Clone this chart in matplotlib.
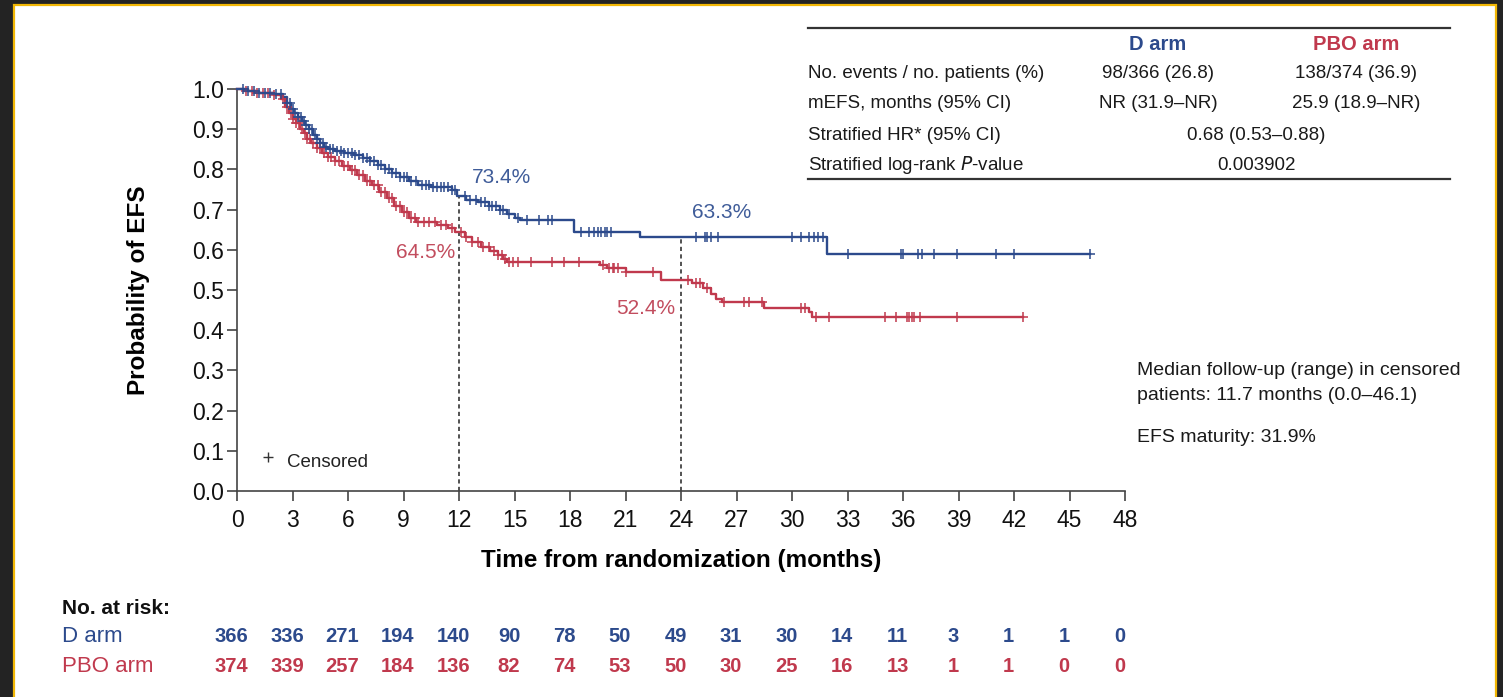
import numpy as np
import matplotlib.pyplot as plt
from matplotlib.patches import Rectangle
import matplotlib.transforms as mtransforms

plt.rcParams['font.family'] = ['Liberation Sans', 'DejaVu Sans']

BLUE = '#2c4a8c'
RED = '#c0394d'
BLUE_TXT = '#3f5c99'
RED_TXT = '#c24d5e'

# Kaplan-Meier step points (time in months, survival after the step)
d_times = [0, 0.6, 1.2, 2.0, 2.5, 2.7, 2.9, 3.1, 3.3, 3.5, 3.7, 3.9, 4.1, 4.3, 4.5, 4.7,
           4.9, 5.3, 5.8, 6.3, 6.8, 7.2, 7.6, 8.0, 8.4, 8.8, 9.3, 9.8, 10.5, 11.6, 11.9,
           12.4, 13.0, 13.6, 14.2, 14.6, 15.0, 15.3, 18.2, 21.8, 31.9]
d_surv = [1.0, 0.995, 0.99, 0.987, 0.98, 0.965, 0.95, 0.94, 0.93, 0.92, 0.91, 0.90, 0.885,
          0.875, 0.865, 0.855, 0.85, 0.845, 0.84, 0.835, 0.828, 0.82, 0.81, 0.80, 0.79, 0.782,
          0.772, 0.762, 0.757, 0.75, 0.734, 0.725, 0.718, 0.71, 0.70, 0.69, 0.68, 0.674,
          0.645, 0.633, 0.59]
d_end = 46.1
d_cens = [0.3, 0.6, 0.9, 1.2, 1.5, 1.8, 2.1, 2.4, 2.7, 2.85, 3.0, 3.15, 3.3, 3.45, 3.6,
          3.75, 3.9, 4.05, 4.2, 4.35, 4.5, 4.65, 4.8, 5.0, 5.2, 5.4, 5.6, 5.8, 6.0, 6.2,
          6.4, 6.6, 6.8, 7.0, 7.2, 7.4, 7.6, 7.8, 8.0, 8.2, 8.4, 8.6, 8.8, 9.0, 9.2, 9.4,
          9.7, 10.0, 10.2, 10.4, 10.6, 10.8, 11.0, 11.2, 11.4, 11.6, 11.8, 12.3, 12.6,
          12.9, 13.2, 13.4, 13.6, 13.8, 14.0, 14.2, 14.4, 14.7, 15.2, 15.7, 16.3, 16.8,
          17.0, 18.6, 19.0, 19.3, 19.5, 19.7, 19.9, 20.0, 20.2, 24.8, 25.3, 25.4, 25.6,
          26.0, 30.0, 30.5, 30.9, 31.2, 31.4, 31.7, 33.0, 35.9, 36.0, 36.8, 37.0, 37.7,
          38.9, 41.0, 42.0, 46.1]

p_times = [0, 0.4, 1.0, 2.0, 2.4, 2.6, 2.8, 3.0, 3.2, 3.4, 3.6, 3.8, 4.0, 4.3, 4.6, 4.9,
           5.3, 5.7, 6.1, 6.5, 6.9, 7.3, 7.7, 8.1, 8.5, 8.9, 9.3, 9.7, 10.8, 11.4, 11.8,
           12.3, 12.7, 13.2, 13.7, 14.1, 14.4, 14.6, 19.6, 20.0, 21.0, 22.9, 24.6, 25.2,
           25.6, 25.9, 26.2, 28.5, 30.9, 31.1]
p_surv = [1.0, 0.995, 0.99, 0.985, 0.975, 0.955, 0.94, 0.925, 0.915, 0.90, 0.89, 0.875,
          0.865, 0.852, 0.84, 0.83, 0.82, 0.808, 0.798, 0.785, 0.772, 0.76, 0.745, 0.728,
          0.71, 0.695, 0.678, 0.668, 0.662, 0.655, 0.645, 0.632, 0.62, 0.608, 0.598, 0.588,
          0.576, 0.570, 0.562, 0.554, 0.546, 0.524, 0.517, 0.504, 0.49, 0.478, 0.471,
          0.454, 0.446, 0.432]
p_end = 42.5
p_cens = [0.5, 0.8, 1.1, 1.4, 1.7, 2.0, 2.5, 2.7, 2.9, 3.05, 3.2, 3.35, 3.5, 3.65, 3.8,
          3.95, 4.1, 4.3, 4.5, 4.7, 4.9, 5.1, 5.3, 5.5, 5.8, 6.0, 6.2, 6.4, 6.6, 6.8, 7.0,
          7.2, 7.4, 7.6, 7.8, 8.0, 8.2, 8.4, 8.6, 8.8, 9.0, 9.2, 9.4, 9.6, 9.8, 10.1,
          10.4, 10.7, 11.0, 11.3, 11.6, 12.1, 12.4, 12.7, 13.0, 13.3, 13.6, 13.9, 14.1,
          14.3, 14.5, 14.7, 14.9, 15.2, 15.9, 17.0, 17.7, 18.5, 19.8, 20.1, 20.3, 20.4,
          20.6, 21.0, 22.5, 24.4, 24.8, 25.0, 25.4, 26.3, 27.4, 27.7, 28.4, 30.5, 30.7,
          31.3, 32.0, 35.0, 35.6, 36.2, 36.3, 36.5, 36.6, 36.9, 38.9, 42.5]

landmarks = [12, 24]
d_landmark = [0.734, 0.633]
p_landmark = [0.645, 0.524]

risk_times = list(range(0, 49, 3))
d_risk = [366, 336, 271, 194, 140, 90, 78, 50, 49, 31, 30, 14, 11, 3, 1, 1, 0]
p_risk = [374, 339, 257, 184, 136, 82, 74, 53, 50, 30, 25, 16, 13, 1, 1, 0, 0]

table_rows = ['No. events / no. patients (%)', 'mEFS, months (95% CI)',
              'Stratified HR* (95% CI)', 'Stratified log-rank $\\it{P}$-value']
d_col = ['98/366 (26.8)', 'NR (31.9\u2013NR)']
p_col = ['138/374 (36.9)', '25.9 (18.9\u2013NR)']
shared_col = ['0.68 (0.53\u20130.88)', '0.003902']

W, H = 1503, 697
fig = plt.figure(figsize=(W / 100, H / 100), dpi=100)
fig.patch.set_facecolor('#232323')

# white slide panel with a thin gold border
fig.patches.append(Rectangle((14 / W, -0.05), (1496 - 14) / W, 1.05 - 5 / H,
                             transform=fig.transFigure, facecolor='white',
                             edgecolor='#f2b705', linewidth=1.6, zorder=-10))

ax = fig.add_axes([237 / W, (H - 491) / H, 888 / W, 402 / H])
ax.set_facecolor('none')
ax.set_zorder(2)


def km_step(times, surv, end, color):
    t = np.array(times + [end])
    s = np.array(surv + [surv[-1]])
    ax.step(t, s, where='post', color=color, lw=1.7, clip_on=False, zorder=3)


def censor_marks(times, surv, cens, color):
    idx = np.searchsorted(np.array(times), np.array(cens), side='right') - 1
    ys = np.array(surv)[idx]
    ax.plot(cens, ys, linestyle='none', marker='+', ms=6.5, mew=1.1, color=color,
            clip_on=False, zorder=4)


km_step(p_times, p_surv, p_end, RED)
censor_marks(p_times, p_surv, p_cens, RED)
km_step(d_times, d_surv, d_end, BLUE)
censor_marks(d_times, d_surv, d_cens, BLUE)

# landmark guide lines
for t, top in zip(landmarks, d_landmark):
    ax.plot([t, t], [0, top], color='#333333', lw=1.2, ls=(0, (2.5, 2)), zorder=2)

ax.text(12.0 + 2.3, d_landmark[0] + 0.045, f'{d_landmark[0] * 100:.1f}%', color=BLUE_TXT,
        fontsize=15, ha='center', va='center')
ax.text(24.0 + 2.2, d_landmark[1] + 0.061, f'{d_landmark[1] * 100:.1f}%', color=BLUE_TXT,
        fontsize=15, ha='center', va='center')
ax.text(12.0 - 0.2, p_landmark[0] - 0.052, f'{p_landmark[0] * 100:.1f}%', color=RED_TXT,
        fontsize=15, ha='right', va='center')
ax.text(24.0 - 0.3, p_landmark[1] - 0.07, f'{p_landmark[1] * 100:.1f}%', color=RED_TXT,
        fontsize=15, ha='right', va='center')

ax.set_xlim(0, 48)
ax.set_ylim(0, 1.0)
ax.set_xticks(risk_times)
ax.set_yticks(np.arange(0, 1.01, 0.1))
ax.set_yticklabels([f'{v:.1f}' for v in np.arange(0, 1.01, 0.1)])
for side in ['top', 'right']:
    ax.spines[side].set_visible(False)
for side in ['left', 'bottom']:
    ax.spines[side].set_color('#444444')
    ax.spines[side].set_linewidth(1.2)
ax.tick_params(direction='out', length=7, width=1.2, color='#444444', labelsize=16.5,
               labelcolor='#111111', pad=6)
ax.tick_params(axis='y', pad=2.5)
ax.set_xlabel('Time from randomization (months)', fontsize=17.5, fontweight='bold',
              labelpad=12)
ax.set_ylabel('Probability of EFS', fontsize=17.5, fontweight='bold', labelpad=30)

# censored legend
ax.plot([1.7], [0.085], marker='+', ms=7, mew=1.0, color='#333333', linestyle='none')
ax.text(2.7, 0.072, 'Censored', fontsize=13.5, color='#222222', va='center', ha='left')

# summary table at top right
tx0, tx1 = 808, 1450
fig.add_artist(plt.Line2D([tx0 / W, tx1 / W], [1 - 28 / H] * 2, color='#333333', lw=1.6))
fig.add_artist(plt.Line2D([tx0 / W, tx1 / W], [1 - 179 / H] * 2, color='#333333', lw=1.6))
fig.text(1158 / W, 1 - 45 / H, 'D arm', color=BLUE, fontsize=14.5, fontweight='bold',
         ha='center', va='center')
fig.text(1356 / W, 1 - 45 / H, 'PBO arm', color=RED, fontsize=14.5, fontweight='bold',
         ha='center', va='center')
row_y = [74, 103, 136, 165]
for i, (label, y) in enumerate(zip(table_rows, row_y)):
    fig.text(tx0 / W, 1 - y / H, label, fontsize=13.5, color='#1a1a1a', va='center')
    if i < 2:
        fig.text(1158 / W, 1 - y / H, d_col[i], fontsize=13.5, color='#1a1a1a',
                 ha='center', va='center')
        fig.text(1356 / W, 1 - y / H, p_col[i], fontsize=13.5, color='#1a1a1a',
                 ha='center', va='center')
    else:
        fig.text(1256 / W, 1 - y / H, shared_col[i - 2], fontsize=13.5, color='#1a1a1a',
                 ha='center', va='center')

# follow-up notes
fig.text(1137 / W, 1 - 371 / H, 'Median follow-up (range) in censored', fontsize=14,
         color='#1a1a1a', va='center')
fig.text(1137 / W, 1 - 396 / H, 'patients: 11.7 months (0.0\u201346.1)', fontsize=14,
         color='#1a1a1a', va='center')
fig.text(1137 / W, 1 - 437 / H, 'EFS maturity: 31.9%', fontsize=14, color='#1a1a1a',
         va='center')

# number at risk rows
trans = mtransforms.blended_transform_factory(ax.transData, fig.transFigure)
fig.text(62 / W, 1 - 608 / H, 'No. at risk:', fontsize=15, fontweight='bold',
         color='#111111', va='center')
fig.text(62 / W, 1 - 636 / H, 'D arm', fontsize=16, color=BLUE, va='center')
fig.text(62 / W, 1 - 666 / H, 'PBO arm', fontsize=16, color=RED, va='center')
for t, dn, pn in zip(risk_times, d_risk, p_risk):
    ax.text(t - 0.3, 1 - 636 / H, str(dn), transform=trans, fontsize=14.5, fontweight='bold',
            color=BLUE, ha='center', va='center')
    ax.text(t - 0.3, 1 - 666 / H, str(pn), transform=trans, fontsize=14.5, fontweight='bold',
            color=RED, ha='center', va='center')

fig.savefig('out.png', dpi=100, facecolor=fig.get_facecolor())
